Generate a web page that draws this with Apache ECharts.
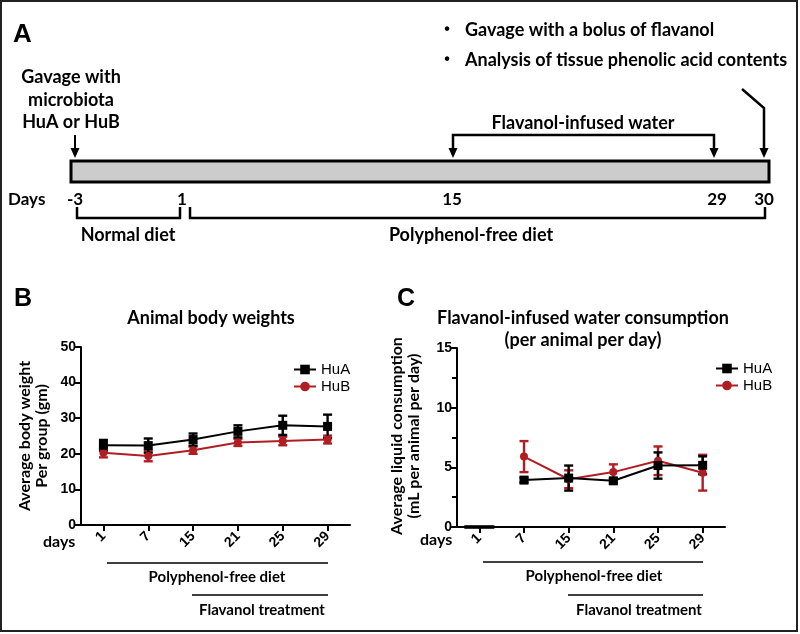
<!DOCTYPE html>
<html><head><meta charset="utf-8">
<script src="https://cdn.jsdelivr.net/npm/echarts@6/dist/echarts.min.js"></script>
<style>html,body{margin:0;padding:0;background:#fff}#c{width:800px;height:634px}</style>
</head><body><div id="c"></div>
<script>
// ---------- DATA ----------
const days = ['1', '7', '15', '21', '25', '29'];
const seriesNames = ['HuA', 'HuB'];
// Panel B: body weight (gm)
const weightHuA = [22.4, 22.3, 24.0, 26.3, 28.0, 27.7];
const weightHuAErr = [1.5, 2.0, 1.7, 1.7, 2.7, 3.3];
const weightHuB = [20.3, 19.4, 21.0, 23.2, 23.6, 24.0];
const weightHuBErr = [1.3, 1.5, 1.0, 1.0, 1.2, 1.1];
const weightTicks = { min: 0, max: 50, interval: 10 };
// Panel C: liquid consumption (mL per animal per day)
const waterHuA = [null, 3.93, 4.1, 3.87, 5.15, 5.17];
const waterHuAErr = [null, 0.2, 1.05, 0.2, 1.1, 0.75];
const waterHuB = [null, 5.9, 4.0, 4.6, 5.55, 4.55];
const waterHuBErr = [null, 1.3, 0.75, 0.65, 1.2, 1.5];
const waterDay1 = [0];
const waterTicks = { min: 0, max: 15, interval: 5 };
// Panel A: timeline text
const timelineDays = ['-3', '1', '15', '29', '30'];
const gavageLines = ['Gavage with', 'microbiota', 'HuA or HuB'];
const bulletLines = ['Gavage with a bolus of flavanol', 'Analysis of tissue phenolic acid contents'];
const phaseLabels = ['Normal diet', 'Polyphenol-free diet'];
const waterLabel = 'Flavanol-infused water';
const titles = { B: 'Animal body weights', C: 'Flavanol-infused water consumption\n(per animal per day)' };
const yTitles = { B: 'Average body weight\nPer group (gm)', C: 'Average liquid consumption\n(mL per animal per day)' };
const treatLabels = ['Polyphenol-free diet', 'Flavanol treatment'];

// ---------- STYLE / LAYOUT ----------
const RED = '#b01e23', BLK = '#000';
const FONT = 'Lato';
const AX = 'Liberation Sans';
const gridB = { left: 81, top: 347, width: 269, height: 178 };
const gridC = { left: 457, top: 348, width: 268, height: 179 };
const layoutA = {
  bar: [71, 161, 698, 21],
  dayX: [75, 182, 452, 717, 764], dayY: 200,
  gavX: 71, gavY: [77, 100, 122],
  bulletX: 447, bulletTextX: 465, bulletY: [30, 60]
};

function tri(x, yTip, w, h) {
  return { type: 'polygon', shape: { points: [[x - w / 2, yTip - h], [x + w / 2, yTip - h], [x, yTip]] }, style: { fill: BLK } };
}
function txt(x, y, text, size, opts) {
  opts = opts || {};
  return { type: 'text', x: x, y: y, rotation: opts.rotation || 0,
    style: { text: text, fontSize: size, fontWeight: opts.weight || 'bold', fontFamily: opts.family || FONT,
      fill: BLK, align: opts.align || 'center', verticalAlign: opts.valign || 'middle', lineHeight: opts.lh } };
}
function pl(points, lw) {
  return { type: 'polyline', shape: { points: points }, style: { stroke: BLK, lineWidth: lw || 2.5, fill: null } };
}

const g = [];
// outer frame
g.push({ type: 'rect', shape: { x: 1, y: 1, width: 796, height: 630 }, style: { fill: null, stroke: '#222', lineWidth: 2 } });
// panel letters
g.push(txt(13, 35, 'A', 26, { align: 'left', family: AX }));
g.push(txt(14, 299, 'B', 25, { align: 'left', family: AX }));
g.push(txt(397, 299, 'C', 25, { align: 'left', family: AX }));
// Panel A
const b = layoutA.bar;
g.push({ type: 'rect', shape: { x: b[0], y: b[1], width: b[2], height: b[3] }, style: { fill: '#cccccc', stroke: BLK, lineWidth: 3 } });
gavageLines.forEach((t, i) => g.push(txt(layoutA.gavX, layoutA.gavY[i], t, 18)));
g.push(pl([[75, 135], [75, 150]], 2)); g.push(tri(75, 158, 9, 10));
g.push(pl([[453, 150], [453, 135], [714, 135], [714, 150]], 2.5));
g.push(tri(453, 158, 9, 10)); g.push(tri(714, 158, 9, 10));
g.push(txt(583, 123, waterLabel, 18));
g.push(pl([[742, 89], [764, 108], [764, 150]], 2.5)); g.push(tri(764, 158, 9, 10));
bulletLines.forEach((t, i) => {
  g.push(txt(layoutA.bulletX, layoutA.bulletY[i], '•', 16, { family: AX }));
  g.push(txt(layoutA.bulletTextX, layoutA.bulletY[i], t, 18, { align: 'left' }));
});
g.push(txt(8, layoutA.dayY, 'Days', 17, { align: 'left' }));
timelineDays.forEach((t, i) => g.push(txt(layoutA.dayX[i], layoutA.dayY, t, 17)));
g.push(pl([[77, 207], [77, 218], [180, 218], [180, 207]], 2.5));
g.push(pl([[190, 207], [190, 218], [765, 218], [765, 207]], 2.5));
g.push(txt(128, 235, phaseLabels[0], 18));
g.push(txt(471, 235, phaseLabels[1], 18));
// Panel titles
g.push(txt(211, 318, titles.B, 18));
g.push(txt(583, 329, titles.C, 18, { lh: 22 }));
// y titles
g.push(txt(33, 436, yTitles.B, 16, { rotation: Math.PI / 2, lh: 17 }));
g.push(txt(405, 436, yTitles.C, 16, { rotation: Math.PI / 2, lh: 17 }));
// days labels
g.push(txt(43, 542, 'days', 16, { align: 'left' }));
g.push(txt(420, 540, 'days', 16, { align: 'left' }));
// treatment lines B
g.push(pl([[107, 563], [328, 563]], 1.5));
g.push(txt(217, 577, treatLabels[0], 15));
g.push(pl([[192, 595], [328, 595]], 1.5));
g.push(txt(262, 610, treatLabels[1], 15));
// treatment lines C
g.push(pl([[483, 562], [703, 562]], 1.5));
g.push(txt(594, 576, treatLabels[0], 15));
g.push(pl([[568, 595], [703, 595]], 1.5));
g.push(txt(639, 610, treatLabels[1], 15));

function errRender(color, capW) {
  return function (params, api) {
    const i = api.value(0), v = api.value(1), e = api.value(2);
    const t = api.coord([i, v + e]), bt = api.coord([i, v - e]);
    const st = { stroke: color, lineWidth: 2.4 };
    return { type: 'group', children: [
      { type: 'line', shape: { x1: t[0], y1: t[1], x2: bt[0], y2: bt[1] }, style: st },
      { type: 'line', shape: { x1: t[0] - capW / 2, y1: t[1], x2: t[0] + capW / 2, y2: t[1] }, style: st },
      { type: 'line', shape: { x1: bt[0] - capW / 2, y1: bt[1], x2: bt[0] + capW / 2, y2: bt[1] }, style: st }
    ] };
  };
}
function errData(vals, errs) {
  const out = [];
  vals.forEach((v, i) => { if (v != null) out.push([i, v, errs[i]]); });
  return out;
}
function xAx(gi) {
  return { type: 'category', gridIndex: gi, data: days, boundaryGap: true,
    axisLine: { show: true, lineStyle: { color: BLK, width: 2 } },
    axisTick: { show: true, alignWithLabel: true, length: 6, lineStyle: { color: BLK, width: 2 } },
    axisLabel: { rotate: 45, margin: 9, color: BLK, fontFamily: AX, fontWeight: 'bold', fontSize: 14 },
    splitLine: { show: false } };
}
function yAx(gi, tk, minor) {
  return { type: 'value', gridIndex: gi, min: tk.min, max: tk.max, interval: tk.interval,
    axisLine: { show: true, lineStyle: { color: BLK, width: 2 } },
    axisTick: { show: true, length: 6, lineStyle: { color: BLK, width: 2 } },
    minorTick: { show: !!minor, splitNumber: 2, length: 5, lineStyle: { color: BLK, width: 2 } },
    axisLabel: { margin: 5, color: BLK, fontFamily: AX, fontWeight: 'bold', fontSize: 14 },
    splitLine: { show: false }, minorSplitLine: { show: false } };
}
function lineS(name, gi, data, color, symbol, size) {
  return { name: name, type: 'line', xAxisIndex: gi, yAxisIndex: gi, data: data, symbol: symbol, symbolSize: size,
    showSymbol: true, connectNulls: false, animation: false,
    lineStyle: { color: color, width: 2 }, itemStyle: { color: color }, emphasis: { disabled: true } };
}
function errS(gi, vals, errs, color) {
  return { type: 'custom', name: 'err', xAxisIndex: gi, yAxisIndex: gi, data: errData(vals, errs),
    renderItem: errRender(color, 9), animation: false, silent: true };
}
const legendCommon = { orient: 'vertical', itemWidth: 22, itemHeight: 12, itemGap: 2, data: seriesNames,
  textStyle: { fontFamily: AX, fontSize: 15, color: BLK }, selectedMode: false };

const option = {
  animation: false,
  textStyle: { fontFamily: AX },
  grid: [
    Object.assign({ containLabel: false }, gridB),
    Object.assign({ containLabel: false }, gridC)
  ],
  xAxis: [xAx(0), xAx(1)],
  yAxis: [yAx(0, weightTicks, false), yAx(1, waterTicks, true)],
  legend: [
    Object.assign({ left: 288, top: 357 }, legendCommon),
    Object.assign({ left: 710, top: 356 }, legendCommon)
  ],
  series: [
    errS(0, weightHuB, weightHuBErr, RED),
    lineS('HuB', 0, weightHuB, RED, 'circle', 8),
    errS(0, weightHuA, weightHuAErr, BLK),
    lineS('HuA', 0, weightHuA, BLK, 'rect', 9),
    { type: 'scatter', name: 'base', xAxisIndex: 1, yAxisIndex: 1, data: waterDay1.map((v, i) => [i, v]),
      symbol: 'rect', symbolSize: [30, 4], itemStyle: { color: BLK }, clip: false, silent: true, z: 5 },
    errS(1, waterHuB, waterHuBErr, RED),
    lineS('HuB', 1, waterHuB, RED, 'circle', 8),
    errS(1, waterHuA, waterHuAErr, BLK),
    lineS('HuA', 1, waterHuA, BLK, 'rect', 9)
  ],
  graphic: { elements: g }
};
const chart = echarts.init(document.getElementById('c'), null, { renderer: 'canvas' });
chart.setOption(option);
</script></body></html>
